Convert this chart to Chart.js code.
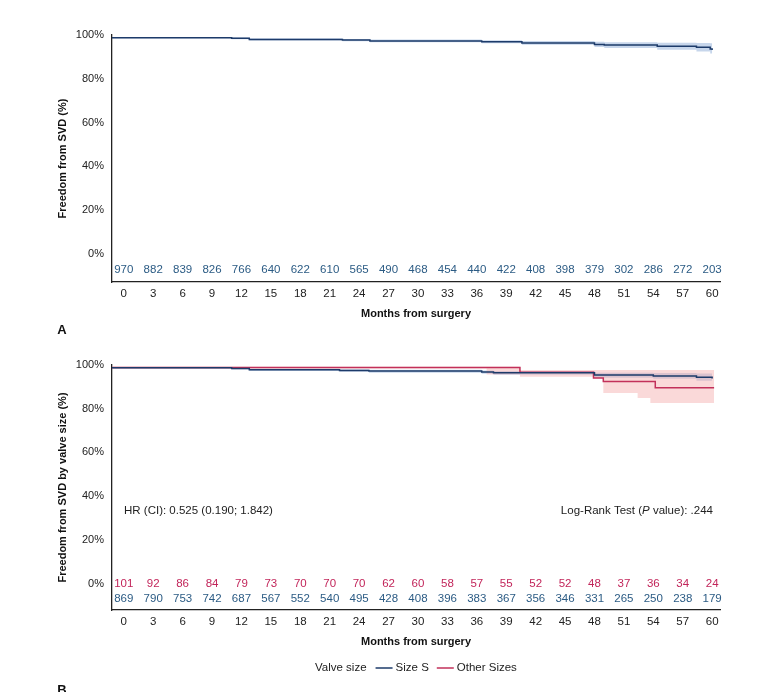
<!DOCTYPE html>
<html>
<head>
<meta charset="utf-8">
<script src="https://cdn.jsdelivr.net/npm/chart.js@4.4.1/dist/chart.umd.min.js"></script>
<style>
html, body { margin: 0; padding: 0; background: #fff; }
#wrap { width: 762px; height: 692px; overflow: hidden; }
.box { width: 762px; position: relative; }
canvas { display: block; }
</style>
</head>
<body>
<div id="wrap">
  <div class="box" style="height:345px"><canvas id="chartA"></canvas></div>
  <div class="box" style="height:347px"><canvas id="chartB"></canvas></div>
</div>
<script>
// numbers at risk (every 3 months)
const riskMonths = [0, 3, 6, 9, 12, 15, 18, 21, 24, 27, 30, 33, 36, 39, 42, 45, 48, 51, 54, 57, 60];
const riskAll = [970, 882, 839, 826, 766, 640, 622, 610, 565, 490, 468, 454, 440, 422, 408, 398, 379, 302, 286, 272, 203];
const riskSizeS = [869, 790, 753, 742, 687, 567, 552, 540, 495, 428, 408, 396, 383, 367, 356, 346, 331, 265, 250, 238, 179];
const riskOther = [101, 92, 86, 84, 79, 73, 70, 70, 70, 62, 60, 58, 57, 55, 52, 52, 48, 37, 36, 34, 24];
const yTicks = [0, 20, 40, 60, 80, 100];

// panel A - whole cohort (curve drawn from the y axis)
const allMonths = [-1.2, 11, 12.8, 22.3, 25.1, 36.5, 40.6, 48, 49, 54.4, 58.4, 59.8, 60];
const allSurv = [98.8, 98.5, 98.0, 97.7, 97.3, 96.9, 96.4, 95.7, 95.4, 94.9, 94.4, 93.6, 93.2];
const allUpper = [99.1, 98.9, 98.5, 98.2, 97.9, 97.6, 97.3, 96.9, 96.7, 96.5, 96.3, 96.2, 96.2];
const allLower = [98.5, 98.1, 97.5, 97.2, 96.7, 96.2, 95.5, 94.5, 94.1, 93.3, 92.5, 91.6, 91.2];

// panel B - Size S
const sMonths = [-1.2, 11, 12.8, 22, 25, 36.5, 37.7, 48, 54, 58.4, 60];
const sSurv = [98.7, 98.4, 97.8, 97.5, 97.2, 96.8, 96.4, 95.4, 95.0, 94.4, 93.8];
const sUpper = [99.0, 98.9, 98.3, 98.1, 97.8, 97.5, 97.2, 96.5, 96.3, 96.1, 95.9];
const sLower = [98.4, 97.9, 97.3, 96.9, 96.5, 96.0, 95.5, 94.2, 93.7, 92.8, 92.0];

// panel B - Other sizes
const oMonths = [-1.2, 37, 40.4, 47.9, 48.9, 52.4, 53.7, 54.2, 60.2];
const oSurv = [98.9, 98.9, 96.7, 94.0, 92.4, 92.4, 92.4, 89.6, 89.6];
const oUpper = [99.2, 99.2, 97.7, 97.7, 97.7, 97.7, 97.7, 97.7, 97.7];
const oLower = [98.4, 95.6, 94.6, 94.0, 87.2, 84.9, 82.6, 82.6, 82.6];

const BLUE = '#1d3b6a';
const BLUE_TXT = '#2b5b84';
const RED = '#c2305a';
const RED_TXT = '#c2255a';
const FONT = '"Liberation Sans", Arial, sans-serif';

function pts(xs, ys) {
    return xs.map((x, i) => ({ x: x, y: ys[i] }));
}

function lineSet(xs, ys, color) {
    return {
        data: pts(xs, ys), borderColor: color, borderWidth: 1.5,
        stepped: true, pointRadius: 0, fill: false, order: 0
    };
}

function bandSets(xs, up, lo, color) {
    return [
        { data: pts(xs, up), borderColor: 'rgba(0,0,0,0)', borderWidth: 0, backgroundColor: color,
          stepped: true, pointRadius: 0, fill: '+1', order: 2 },
        { data: pts(xs, lo), borderColor: 'rgba(0,0,0,0)', borderWidth: 0,
          stepped: true, pointRadius: 0, fill: false, order: 3 }
    ];
}

// draws numbers at risk and other loose texts
const textPlugin = {
    id: 'texts',
    afterDraw(chart, args, opts) {
        const ctx = chart.ctx;
        const xs = chart.scales.x, ys = chart.scales.y;
        ctx.save();
        ctx.textBaseline = 'middle';
        ctx.textAlign = 'center';
        ctx.font = '11.5px ' + FONT;
        (opts.rows || []).forEach(row => {
            ctx.fillStyle = row.color;
            row.values.forEach((v, i) => {
                ctx.fillText(String(v), xs.getPixelForValue(riskMonths[i]), ys.getPixelForValue(row.y));
            });
        });
        if (opts.letter) {
            ctx.fillStyle = '#111';
            ctx.font = 'bold 13px ' + FONT;
            ctx.fillText(opts.letter.text, opts.letter.x, opts.letter.y);
        }
        if (opts.extra) opts.extra(ctx, chart);
        ctx.restore();
    }
};

function makeOptions(yMin, yTitle, padTop, padBottom, textOpts) {
    return {
        responsive: true,
        maintainAspectRatio: false,
        animation: false,
        layout: { padding: { top: padTop, right: 42, bottom: padBottom, left: 0 } },
        plugins: { legend: { display: false }, tooltip: { enabled: false }, texts: textOpts },
        scales: {
            x: {
                type: 'linear', min: -1.2, max: 60.8,
                grid: { display: false, drawTicks: false, tickLength: 0 },
                border: { display: true, color: '#222', width: 1.3 },
                afterBuildTicks: s => { s.ticks = riskMonths.map(v => ({ value: v })); },
                afterFit: s => { s.height = 45; },
                ticks: { color: '#222', font: { family: FONT, size: 11.5 }, padding: 5, maxRotation: 0 },
                title: { display: true, text: 'Months from surgery', color: '#111',
                         font: { family: FONT, size: 11, weight: 'bold' }, padding: { top: 0, bottom: 6 } }
            },
            y: {
                min: yMin, max: 100,
                grid: { display: false, drawTicks: false, tickLength: 0 },
                border: { display: true, color: '#222', width: 1.3 },
                afterBuildTicks: s => { s.ticks = yTicks.map(v => ({ value: v })); },
                afterFit: s => { s.width = 112; },
                ticks: { color: '#222', font: { family: FONT, size: 11 }, padding: 8, callback: v => v + '%' },
                title: { display: true, text: yTitle, color: '#111',
                         font: { family: FONT, size: 11, weight: 'bold' }, padding: { top: 56, bottom: 0 } }
            }
        }
    };
}

new Chart(document.getElementById('chartA'), {
    type: 'line',
    data: {
        datasets: [lineSet(allMonths, allSurv, BLUE)].concat(
            bandSets(allMonths, allUpper, allLower, 'rgba(130,165,210,0.45)'))
    },
    options: makeOptions(-12.8, 'Freedom from SVD (%)', 35, 18, {
        rows: [{ values: riskAll, y: -7.3, color: BLUE_TXT }],
        letter: { text: 'A', x: 62, y: 330 }
    }),
    plugins: [textPlugin]
});

function drawLegendB(ctx, chart) {
    ctx.textAlign = 'left';
    ctx.font = '11.5px ' + FONT;
    ctx.fillStyle = '#222';
    // HR / log-rank annotations
    const yAnn = chart.scales.y.getPixelForValue(33.5);
    ctx.fillText('HR (CI): 0.525 (0.190; 1.842)', 124, yAnn);
    const partA = 'Log-Rank Test (', partB = 'P', partC = ' value): .244';
    const wC = ctx.measureText(partC).width;
    ctx.font = 'italic 11.5px ' + FONT;
    const wB = ctx.measureText(partB).width;
    ctx.font = '11.5px ' + FONT;
    const wA = ctx.measureText(partA).width;
    let x = 713 - wA - wB - wC;
    ctx.fillText(partA, x, yAnn);
    ctx.font = 'italic 11.5px ' + FONT;
    ctx.fillText(partB, x + wA, yAnn);
    ctx.font = '11.5px ' + FONT;
    ctx.fillText(partC, x + wA + wB, yAnn);

    // legend
    const ly = 323;
    let lx = 315;
    ctx.fillText('Valve size', lx, ly);
    lx += ctx.measureText('Valve size').width + 9;
    [['Size S', BLUE], ['Other Sizes', RED]].forEach(([label, col]) => {
        ctx.strokeStyle = col;
        ctx.lineWidth = 1.5;
        ctx.beginPath();
        ctx.moveTo(lx, ly);
        ctx.lineTo(lx + 17, ly);
        ctx.stroke();
        lx += 20;
        ctx.fillStyle = '#222';
        ctx.fillText(label, lx, ly);
        lx += ctx.measureText(label).width + 8;
    });
}

new Chart(document.getElementById('chartB'), {
    type: 'line',
    data: {
        datasets: [lineSet(sMonths, sSurv, BLUE), lineSet(oMonths, oSurv, RED)]
            .concat(bandSets(oMonths, oUpper, oLower, 'rgba(244,170,170,0.45)'))
            .concat(bandSets(sMonths, sUpper, sLower, 'rgba(130,165,210,0.45)'))
    },
    options: makeOptions(-12.1, 'Freedom from SVD by valve size (%)', 20, 37, {
        rows: [{ values: riskOther, y: 0.1, color: RED_TXT },
               { values: riskSizeS, y: -6.9, color: BLUE_TXT }],
        letter: { text: 'B', x: 62, y: 345 },
        extra: drawLegendB
    }),
    plugins: [textPlugin]
});
</script>
</body>
</html>
